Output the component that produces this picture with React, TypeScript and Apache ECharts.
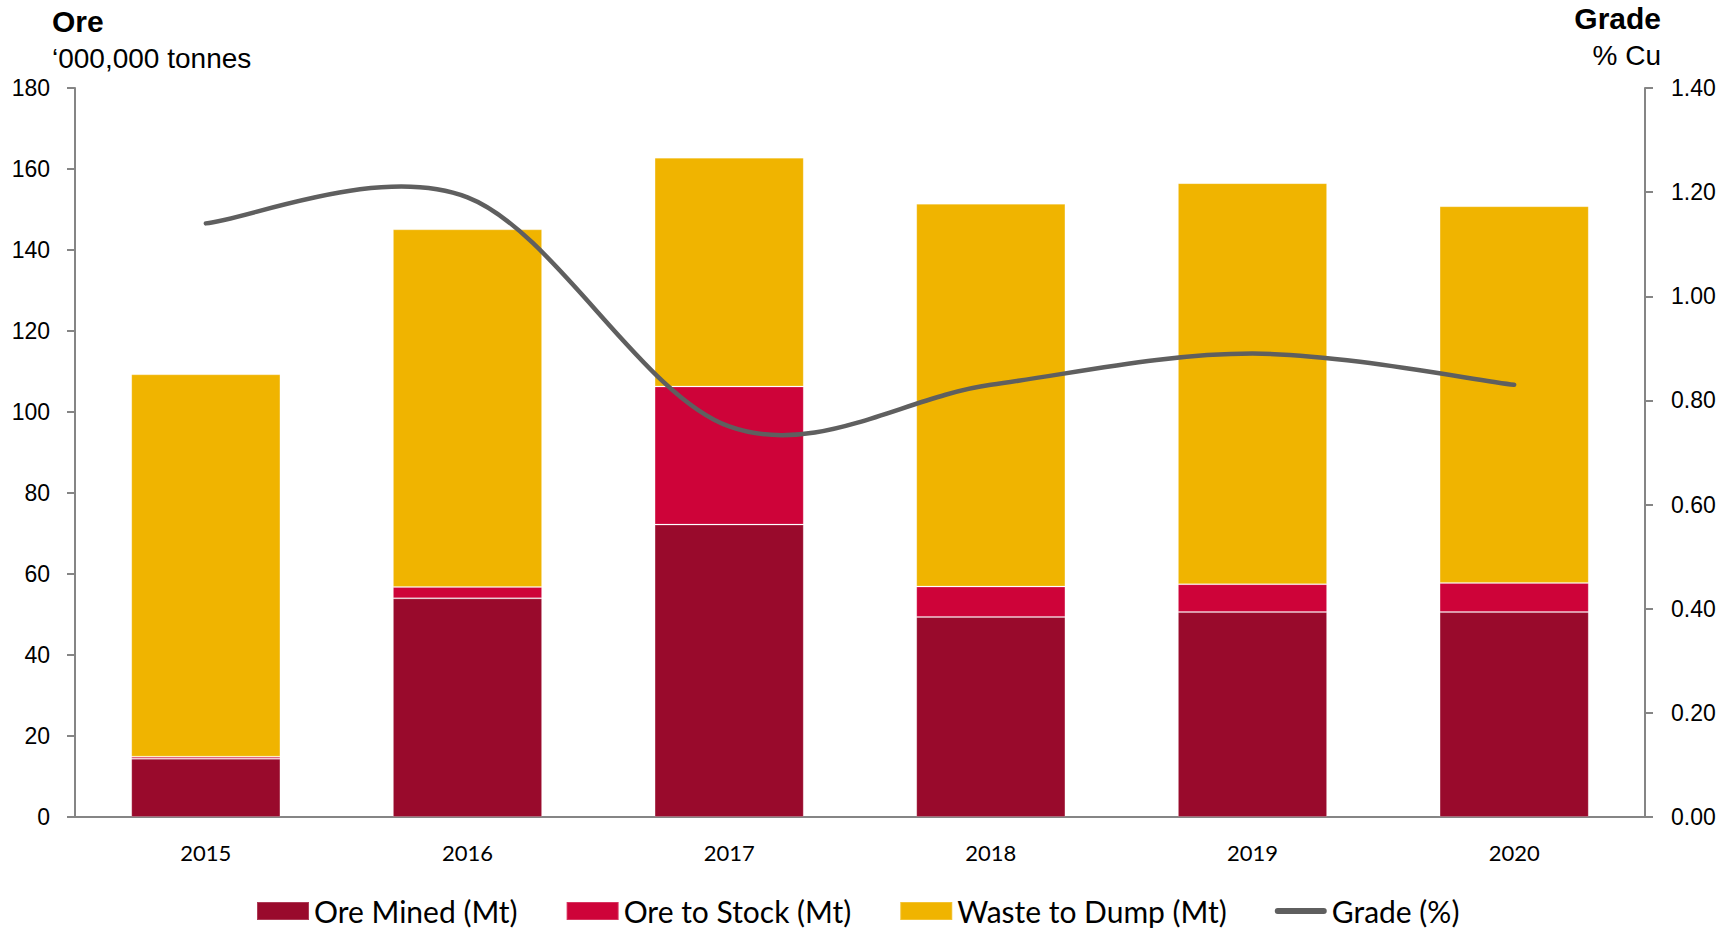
import React, { useEffect, useRef } from "react";
import * as echarts from "echarts";

const years = ["2015", "2016", "2017", "2018", "2019", "2020"];
const oreMined = [14.4, 54.0, 72.2, 49.4, 50.6, 50.6];
const oreToStock = [0.5, 2.8, 34.1, 7.5, 6.9, 7.2];
const wasteToDump = [94.4, 88.3, 56.5, 94.5, 99.0, 93.0];
const grade = [1.14, 1.19, 0.75, 0.83, 0.89, 0.83];

const LINE_COLOR = "#5F5F5F";

function smoothPath(pts: number[][]): string {
  const n = pts.length;
  if (!n) return "";
  let d = `M${pts[0][0]},${pts[0][1]}`;
  for (let i = 0; i < n - 1; i++) {
    const p0 = pts[Math.max(0, i - 1)];
    const p1 = pts[i];
    const p2 = pts[i + 1];
    const p3 = pts[Math.min(n - 1, i + 2)];
    const c1x = p1[0] + (p2[0] - p0[0]) / 6;
    const c1y = p1[1] + (p2[1] - p0[1]) / 6;
    const c2x = p2[0] - (p3[0] - p1[0]) / 6;
    const c2y = p2[1] - (p3[1] - p1[1]) / 6;
    d += ` C${c1x},${c1y} ${c2x},${c2y} ${p2[0]},${p2[1]}`;
  }
  return d;
}

export default function App() {
  const ref = useRef<HTMLDivElement>(null);
  useEffect(() => {
    document.body.style.margin = "0";
    const chart = echarts.init(ref.current!, undefined, { renderer: "svg" });
    const axisColor = "#858585";
    const border = { borderColor: "rgba(255,255,255,0.2)", borderWidth: 1 };
    chart.setOption({
      animation: false,
      backgroundColor: "#ffffff",
      grid: { left: 75, right: 89, top: 88, bottom: 112 },
      graphic: [
        { type: "text", left: 52, top: 6, style: { text: "Ore", font: "bold 30px 'Liberation Sans', Arial", fill: "#000" } },
        { type: "text", left: 52, top: 44, style: { text: "\u2018000,000 tonnes", font: "28px 'Liberation Sans', Arial", fill: "#000" } },
        { type: "text", right: 73, top: 3, style: { text: "Grade", font: "bold 30px 'Liberation Sans', Arial", fill: "#000" } },
        { type: "text", right: 73, top: 41, style: { text: "% Cu", font: "28px 'Liberation Sans', Arial", fill: "#000" } },
      ],
      legend: {
        left: 251,
        top: 891,
        itemWidth: 52,
        itemHeight: 18,
        itemGap: 48,
        textStyle: { fontFamily: "Lato", fontSize: 30, color: "#000" },
        data: [
          { name: "Ore Mined (Mt)", icon: "rect" },
          { name: "Ore to Stock (Mt)", icon: "rect" },
          { name: "Waste to Dump (Mt)", icon: "rect" },
          {
            name: "Grade (%)",
            icon: "path://M3,0 L49,0 A3,3 0 0 1 49,6 L3,6 A3,3 0 0 1 3,0 Z",
            itemStyle: { color: LINE_COLOR },
          },
        ],
      },
      xAxis: {
        type: "category",
        data: years,
        axisLine: { lineStyle: { color: axisColor, width: 2 } },
        axisTick: { show: false },
        axisLabel: { margin: 24, fontFamily: "Lato", fontSize: 22, color: "#000" },
      },
      yAxis: [
        {
          type: "value",
          min: 0,
          max: 180,
          interval: 20,
          splitLine: { show: false },
          axisLine: { show: true, lineStyle: { color: axisColor, width: 2 } },
          axisTick: { show: true, length: 8, lineStyle: { color: axisColor, width: 2 } },
          axisLabel: { margin: 25, fontFamily: "'Liberation Sans', Arial", fontSize: 23, color: "#000" },
        },
        {
          type: "value",
          min: 0,
          max: 1.4,
          interval: 0.2,
          splitLine: { show: false },
          axisLine: { show: true, lineStyle: { color: axisColor, width: 2 } },
          axisTick: { show: true, length: 8, lineStyle: { color: axisColor, width: 2 } },
          axisLabel: {
            margin: 26,
            fontFamily: "'Liberation Sans', Arial",
            fontSize: 23,
            color: "#000",
            formatter: (v: number) => v.toFixed(2),
          },
        },
      ],
      series: [
        {
          name: "Ore Mined (Mt)",
          type: "bar",
          stack: "a",
          barWidth: "57%",
          data: oreMined,
          itemStyle: { color: "#990A2C", ...border },
        },
        {
          name: "Ore to Stock (Mt)",
          type: "bar",
          stack: "a",
          data: oreToStock,
          itemStyle: { color: "#CE0339", ...border },
        },
        {
          name: "Waste to Dump (Mt)",
          type: "bar",
          stack: "a",
          data: wasteToDump,
          itemStyle: { color: "#F0B400", ...border },
        },
        {
          name: "Grade (%)",
          type: "custom",
          yAxisIndex: 1,
          data: grade.map((v, i) => [i, v]),
          encode: { x: 0, y: 1 },
          itemStyle: { color: LINE_COLOR },
          z: 5,
          renderItem: (params: any, api: any) => {
            if (params.dataIndex !== 0) return null;
            const pts = grade.map((v, i) => api.coord([i, v]));
            return {
              type: "path",
              shape: { pathData: smoothPath(pts) },
              style: { fill: "none", stroke: LINE_COLOR, lineWidth: 4.5, lineCap: "round", lineJoin: "round" },
            };
          },
        },
      ],
    });
    return () => chart.dispose();
  }, []);
  return <div ref={ref} style={{ width: 1734, height: 929 }} />;
}
